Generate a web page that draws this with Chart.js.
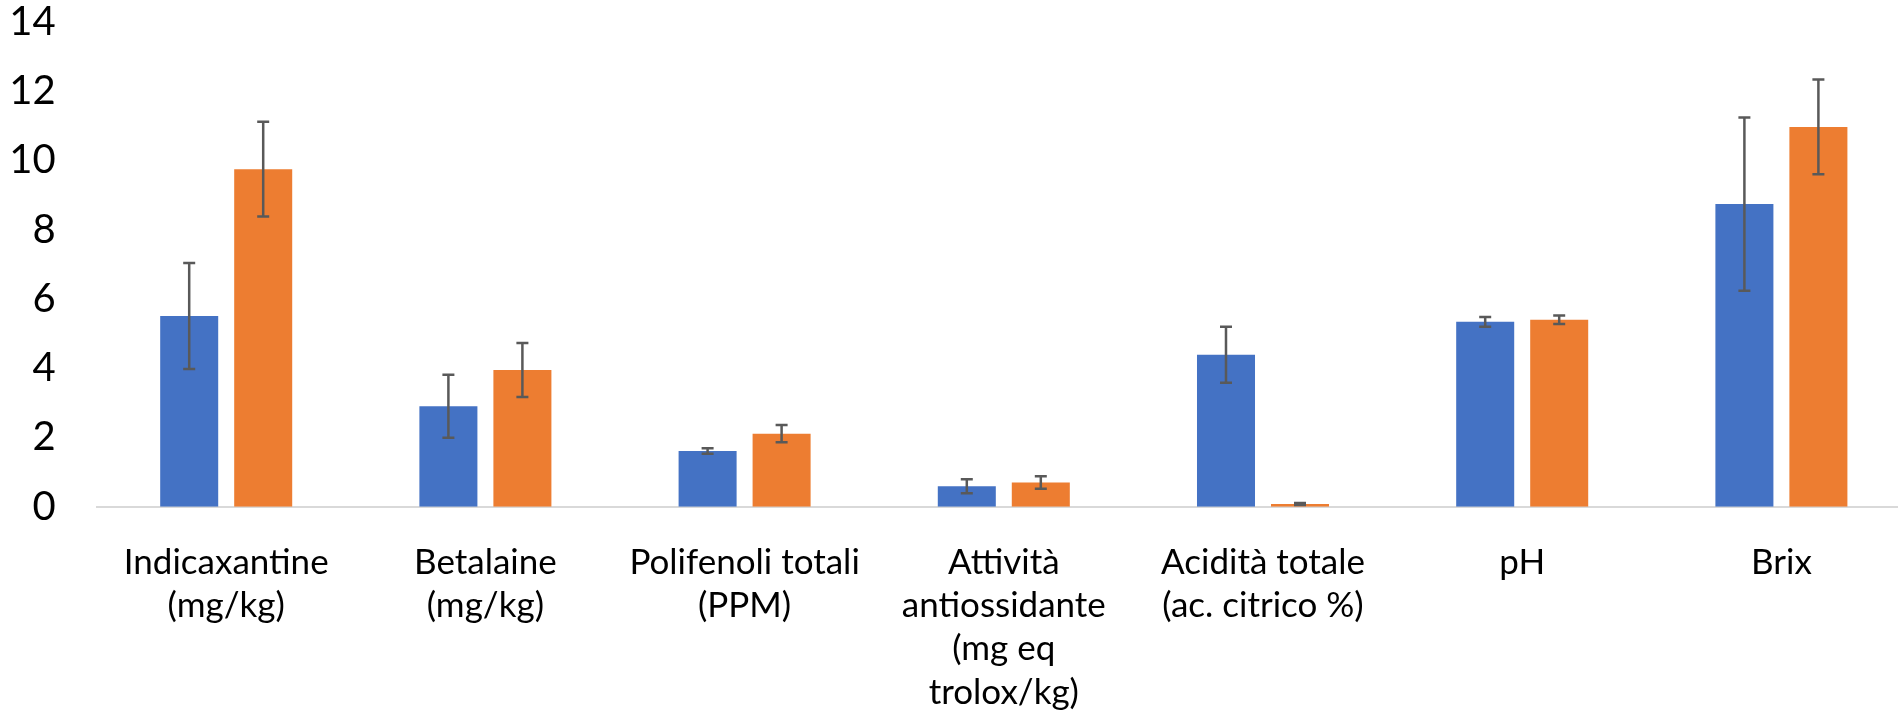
<!DOCTYPE html>
<html>
<head>
<meta charset="utf-8">
<script src="https://cdn.jsdelivr.net/npm/chart.js@4.4.1/dist/chart.umd.min.js"></script>
<style>
  html, body { margin: 0; padding: 0; background: #ffffff; overflow: hidden; }
  .chart-wrap { position: absolute; left: 0; top: 0; width: 1911px; height: 712px; }
</style>
</head>
<body>
<div class="chart-wrap"><canvas id="barChart"></canvas></div>
<script>
// Categories and values
const categories = [
  ['Indicaxantine', '(mg/kg)'],
  ['Betalaine', '(mg/kg)'],
  ['Polifenoli totali', '(PPM)'],
  ['Attività', 'antiossidante', '(mg eq', 'trolox/kg)'],
  ['Acidità totale', '(ac. citrico %)'],
  'pH',
  'Brix'
];
const serie1 = [5.51, 2.90, 1.61, 0.59, 4.39, 5.34, 8.74];
const serie2 = [9.75, 3.95, 2.11, 0.70, 0.08, 5.40, 10.97];
const errore1 = [1.53, 0.91, 0.08, 0.20, 0.81, 0.14, 2.50];
const errore2 = [1.37, 0.78, 0.25, 0.18, 0.03, 0.12, 1.37];
const yTicks = [0, 2, 4, 6, 8, 10, 12, 14];

const labelFont = 'Lato, "Open Sans", sans-serif';

// Draw the error bars on top of each bar
const errorBarsPlugin = {
  id: 'errorBars',
  afterDatasetsDraw(chart) {
    const ctx = chart.ctx;
    const yScale = chart.scales.y;
    chart.data.datasets.forEach((dataset, di) => {
      const meta = chart.getDatasetMeta(di);
      meta.data.forEach((bar, i) => {
        const v = dataset.data[i];
        const e = dataset.errors[i];
        const top = yScale.getPixelForValue(v + e);
        const bottom = yScale.getPixelForValue(v - e);
        const capHalf = 6;
        ctx.save();
        ctx.strokeStyle = '#595959';
        ctx.lineWidth = 2.5;
        ctx.beginPath();
        ctx.moveTo(bar.x, top);
        ctx.lineTo(bar.x, bottom);
        ctx.moveTo(bar.x - capHalf, top);
        ctx.lineTo(bar.x + capHalf, top);
        ctx.moveTo(bar.x - capHalf, bottom);
        ctx.lineTo(bar.x + capHalf, bottom);
        ctx.stroke();
        ctx.restore();
      });
    });
  }
};

document.addEventListener('DOMContentLoaded', function() {
  const ctx = document.getElementById('barChart').getContext('2d');

  new Chart(ctx, {
    type: 'bar',
    data: {
      labels: categories,
      datasets: [{
        label: 'Serie1',
        data: serie1,
        errors: errore1,
        backgroundColor: '#4472C4',
        categoryPercentage: 0.571,
        barPercentage: 0.784
      }, {
        label: 'Serie2',
        data: serie2,
        errors: errore2,
        backgroundColor: '#ED7D31',
        categoryPercentage: 0.571,
        barPercentage: 0.784
      }]
    },
    options: {
      responsive: true,
      maintainAspectRatio: false,
      animation: false,
      devicePixelRatio: 1,
      layout: {
        padding: { top: 22, right: 0, bottom: 0, left: 0 }
      },
      plugins: {
        legend: { display: false },
        tooltip: { enabled: false }
      },
      scales: {
        x: {
          grid: { display: false, drawTicks: false },
          border: { display: true, color: '#d9d9d9', width: 2 },
          ticks: {
            color: '#000000',
            autoSkip: false,
            maxRotation: 0,
            minRotation: 0,
            padding: 34,
            font: { family: labelFont, size: 35, lineHeight: 1.24 }
          },
          afterFit: function(scale) {
            scale.height = 205.3;
          }
        },
        y: {
          min: 0,
          max: 14,
          grid: { display: false, drawTicks: false },
          border: { display: false },
          afterBuildTicks: function(scale) {
            scale.ticks = yTicks.map(v => ({ value: v }));
          },
          ticks: {
            color: '#000000',
            padding: 41,
            font: { family: labelFont, size: 40 }
          },
          afterFit: function(scale) {
            scale.width = 96.6;
            scale.paddingTop = 22;
            scale.paddingBottom = 0;
          }
        }
      }
    },
    plugins: [errorBarsPlugin]
  });
});
</script>
</body>
</html>
